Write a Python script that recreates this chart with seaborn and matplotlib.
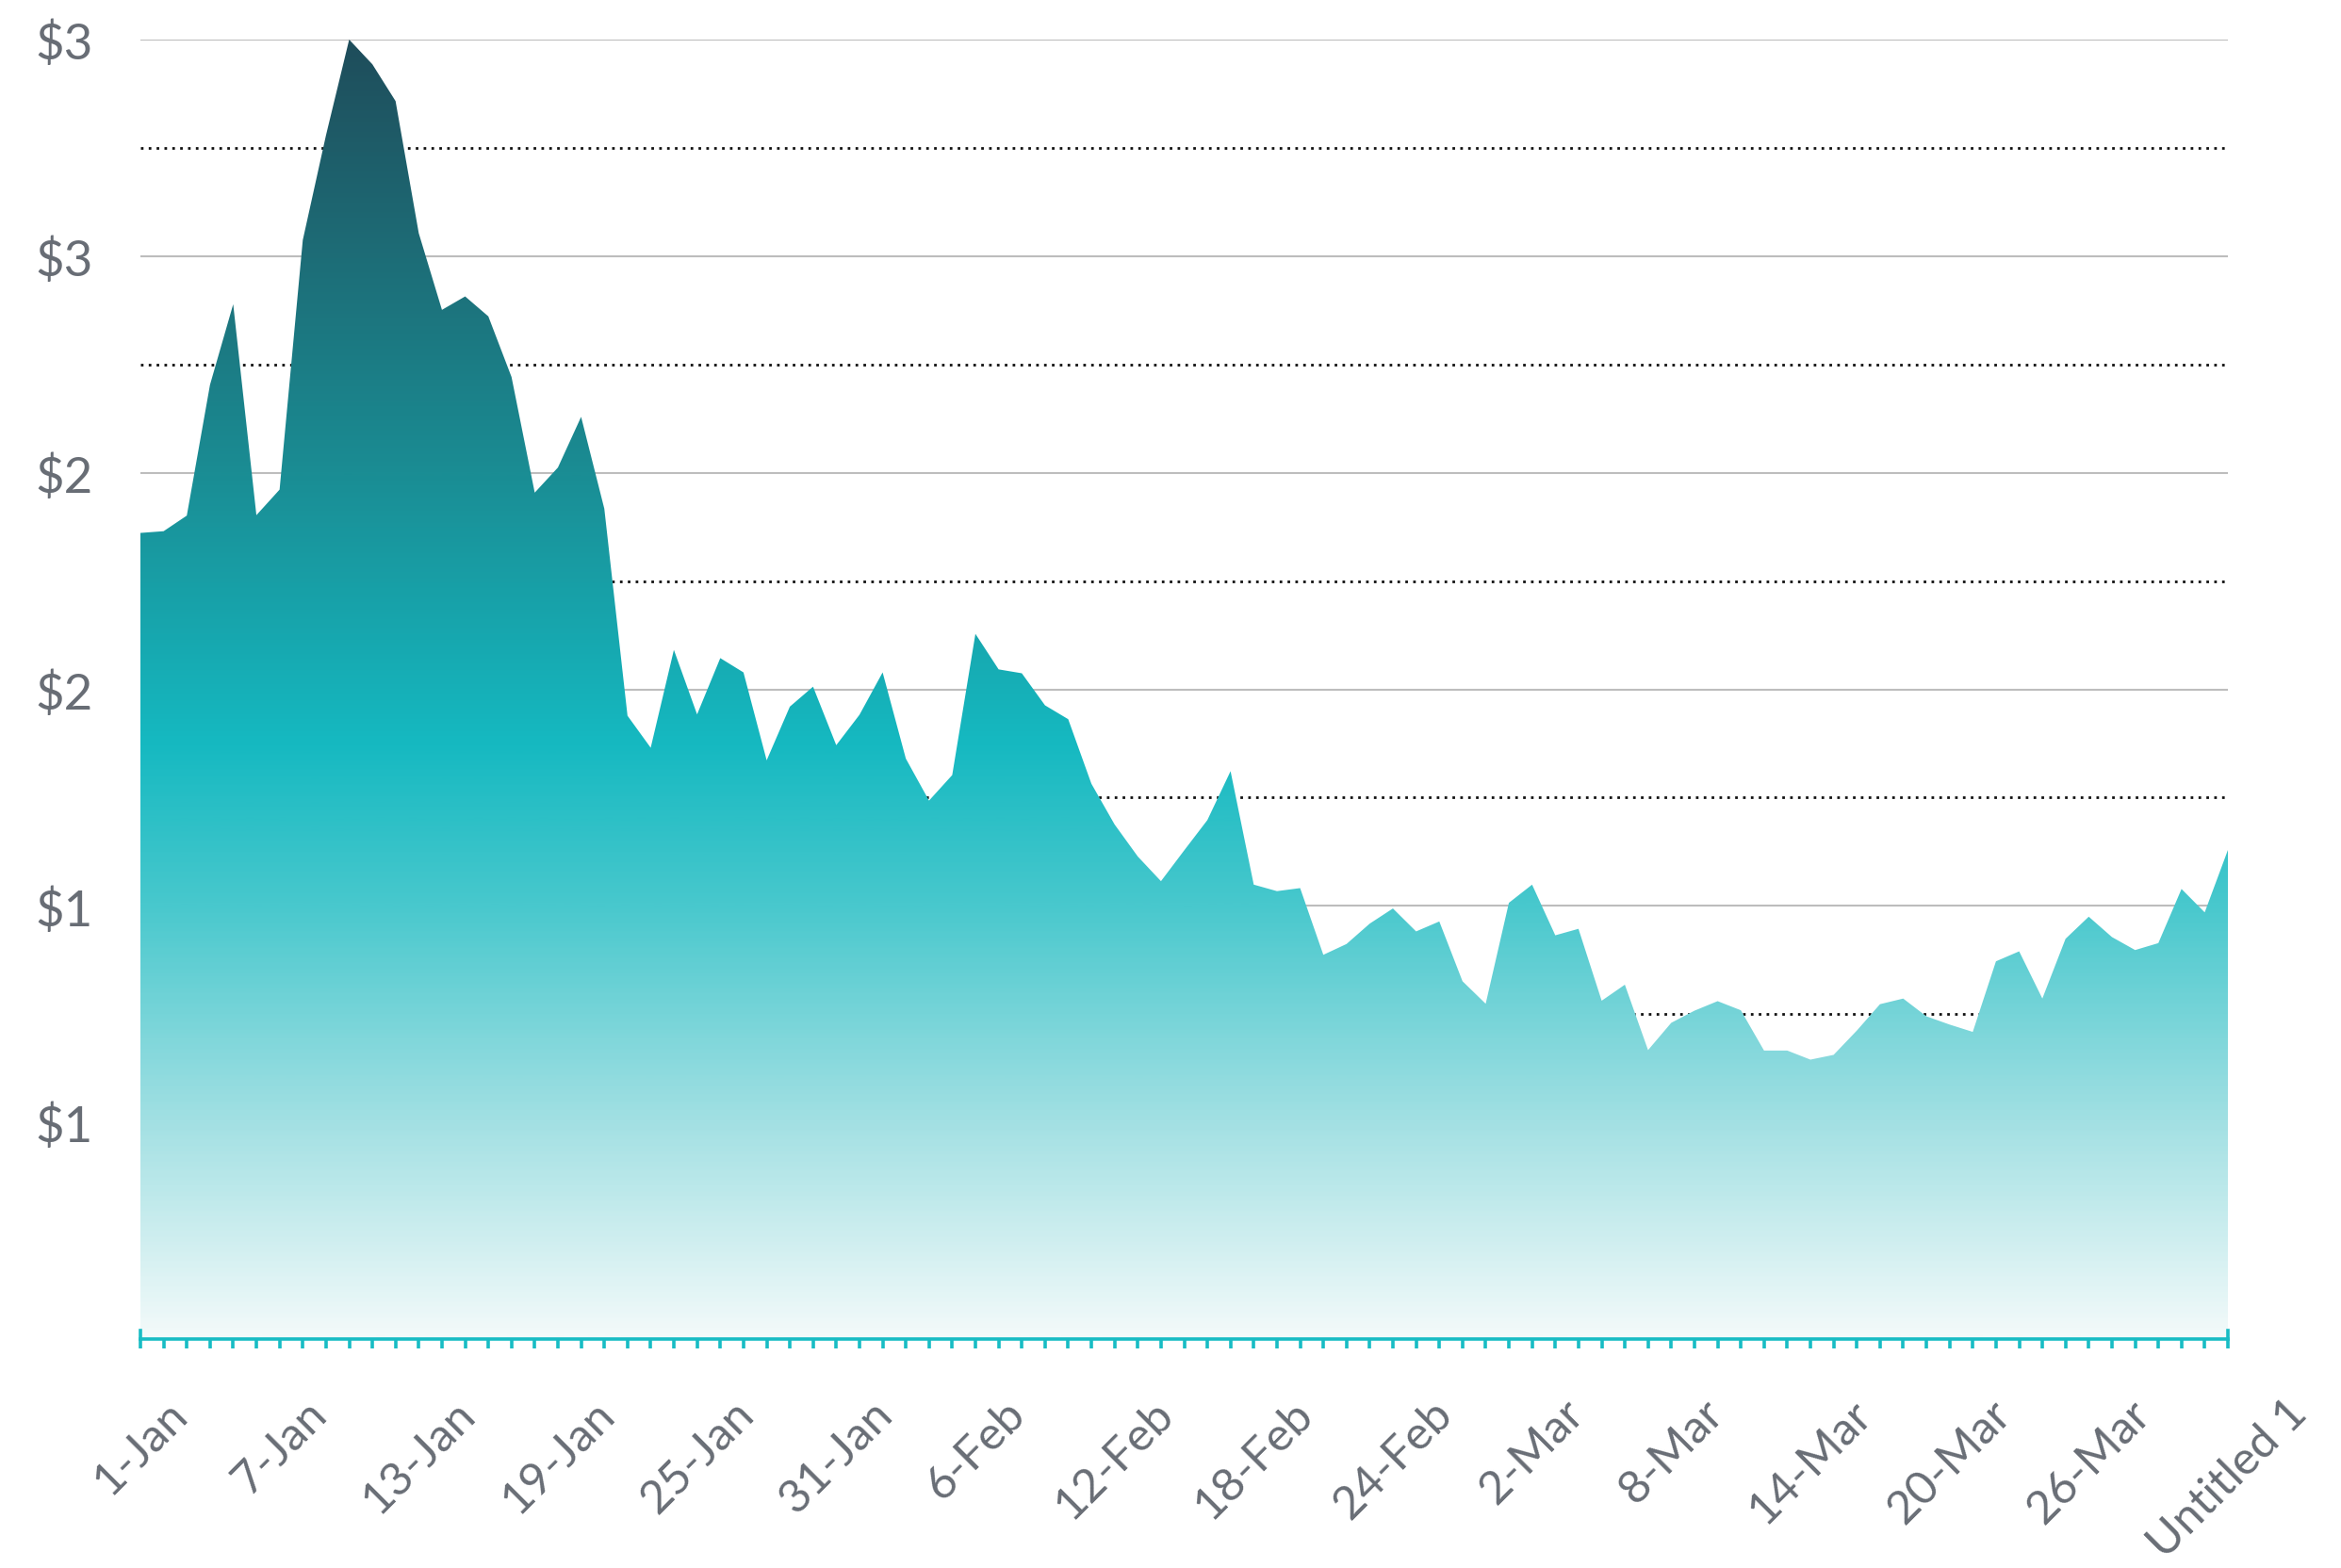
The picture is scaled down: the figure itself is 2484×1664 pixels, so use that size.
import numpy as np
import matplotlib
matplotlib.use("Agg")
import matplotlib.pyplot as plt
from matplotlib.colors import LinearSegmentedColormap
import seaborn as sns

# daily values (1-Jan .. "Untitled 1")
prices = [1.861, 1.865, 1.901, 2.203, 2.389, 1.902, 1.961, 2.537, 2.779, 3.000,
          2.943, 2.858, 2.553, 2.376, 2.407, 2.361, 2.221, 1.954, 2.012, 2.129,
          1.917, 1.439, 1.365, 1.591, 1.442, 1.572, 1.539, 1.336, 1.460, 1.506,
          1.371, 1.441, 1.539, 1.340, 1.243, 1.302, 1.628, 1.546, 1.537, 1.463,
          1.431, 1.282, 1.188, 1.114, 1.057, 1.128, 1.198, 1.311, 1.049, 1.034,
          1.041, 0.887, 0.912, 0.959, 0.994, 0.941, 0.964, 0.826, 0.774, 1.007,
          1.049, 0.932, 0.947, 0.781, 0.818, 0.667, 0.730, 0.758, 0.780, 0.759,
          0.666, 0.666, 0.645, 0.656, 0.712, 0.773, 0.786, 0.745, 0.726, 0.709,
          0.872, 0.895, 0.786, 0.924, 0.975, 0.928, 0.898, 0.914, 1.039, 0.985,
          1.129]
days = list(range(len(prices)))

x_labels = ["1-Jan", "7-Jan", "13-Jan", "19-Jan", "25-Jan", "31-Jan", "6-Feb",
            "12-Feb", "18-Feb", "24-Feb", "2-Mar", "8-Mar", "14-Mar", "20-Mar",
            "26-Mar", "Untitled 1"]
y_ticks = [0.5, 1.0, 1.5, 2.0, 2.5, 3.0]
y_labels = ["$1", "$1", "$2", "$2", "$3", "$3"]
y_minor = [0.25, 0.75, 1.25, 1.75, 2.25, 2.75]

teal = "#18bcc4"
grey_txt = "#686d75"

sns.set_theme(style="white")
plt.rcParams["font.family"] = ["Lato", "DejaVu Sans"]

fig = plt.figure(figsize=(24.84, 16.65), dpi=100)
ax = fig.add_axes([149 / 2484, 1 - 1422 / 1665, (2364 - 149) / 2484, (1422 - 43) / 1665])

# invisible line just to hand the series to seaborn
sns.lineplot(x=days, y=prices, ax=ax, color=teal, linewidth=0)

# gradient fill under the curve
cmap = LinearSegmentedColormap.from_list(
    "tealfade",
    [(0.0, "#f3fafa"), (0.5 / 3, "#a2e0e3"), (1.0 / 3, "#48c8cd"),
     (1.375 / 3, "#15b9c1"), (2.0 / 3, "#1a8d94"), (2.5 / 3, "#1d6d77"),
     (1.0, "#1f4d5b")])
poly = ax.fill_between(days, prices, 0, color="none", linewidth=0)
grad = np.linspace(0, 3, 600).reshape(-1, 1)
img = ax.imshow(grad, extent=[0, len(days) - 1, 0, 3], origin="lower",
                aspect="auto", cmap=cmap, vmin=0, vmax=3, zorder=2,
                interpolation="bilinear")
img.set_clip_path(poly.get_paths()[0], transform=ax.transData)

# grid lines
for v in y_ticks:
    ax.axhline(v, color="#bdbdbd", lw=1.5, zorder=1)
for v in y_minor:
    ax.axhline(v, color="#111111", lw=2.0, ls=(0, (1, 2)), zorder=1)

ax.set_xlim(0, len(days) - 1)
ax.set_ylim(0, 3)

# spines
ax.spines["top"].set_visible(False)
ax.spines["bottom"].set_color(teal)
ax.spines["bottom"].set_linewidth(2.6)
for s in ["left", "right"]:
    ax.spines[s].set_color(teal)
    ax.spines[s].set_linewidth(2.6)
    ax.spines[s].set_bounds(0, 0.02)
    ax.spines[s].set_zorder(3)

# x ticks: one per day, labels every 6 days
ax.set_xticks(days, minor=True)
ax.set_xticks(days[::6])
ax.set_xticklabels(x_labels, rotation=45, ha="center")
ax.tick_params(axis="x", which="both", direction="out", length=7, width=2.6,
               color=teal, bottom=True)
ax.tick_params(axis="x", which="major", pad=33, labelsize=35.5, labelcolor=grey_txt)

ax.set_yticks(y_ticks)
ax.set_yticklabels(y_labels)
ax.tick_params(axis="y", left=False, length=0, pad=36, labelsize=38, labelcolor=grey_txt)

ax.set_xlabel("")
ax.set_ylabel("")
ax.grid(False)

fig.savefig("out.png", dpi=100)
